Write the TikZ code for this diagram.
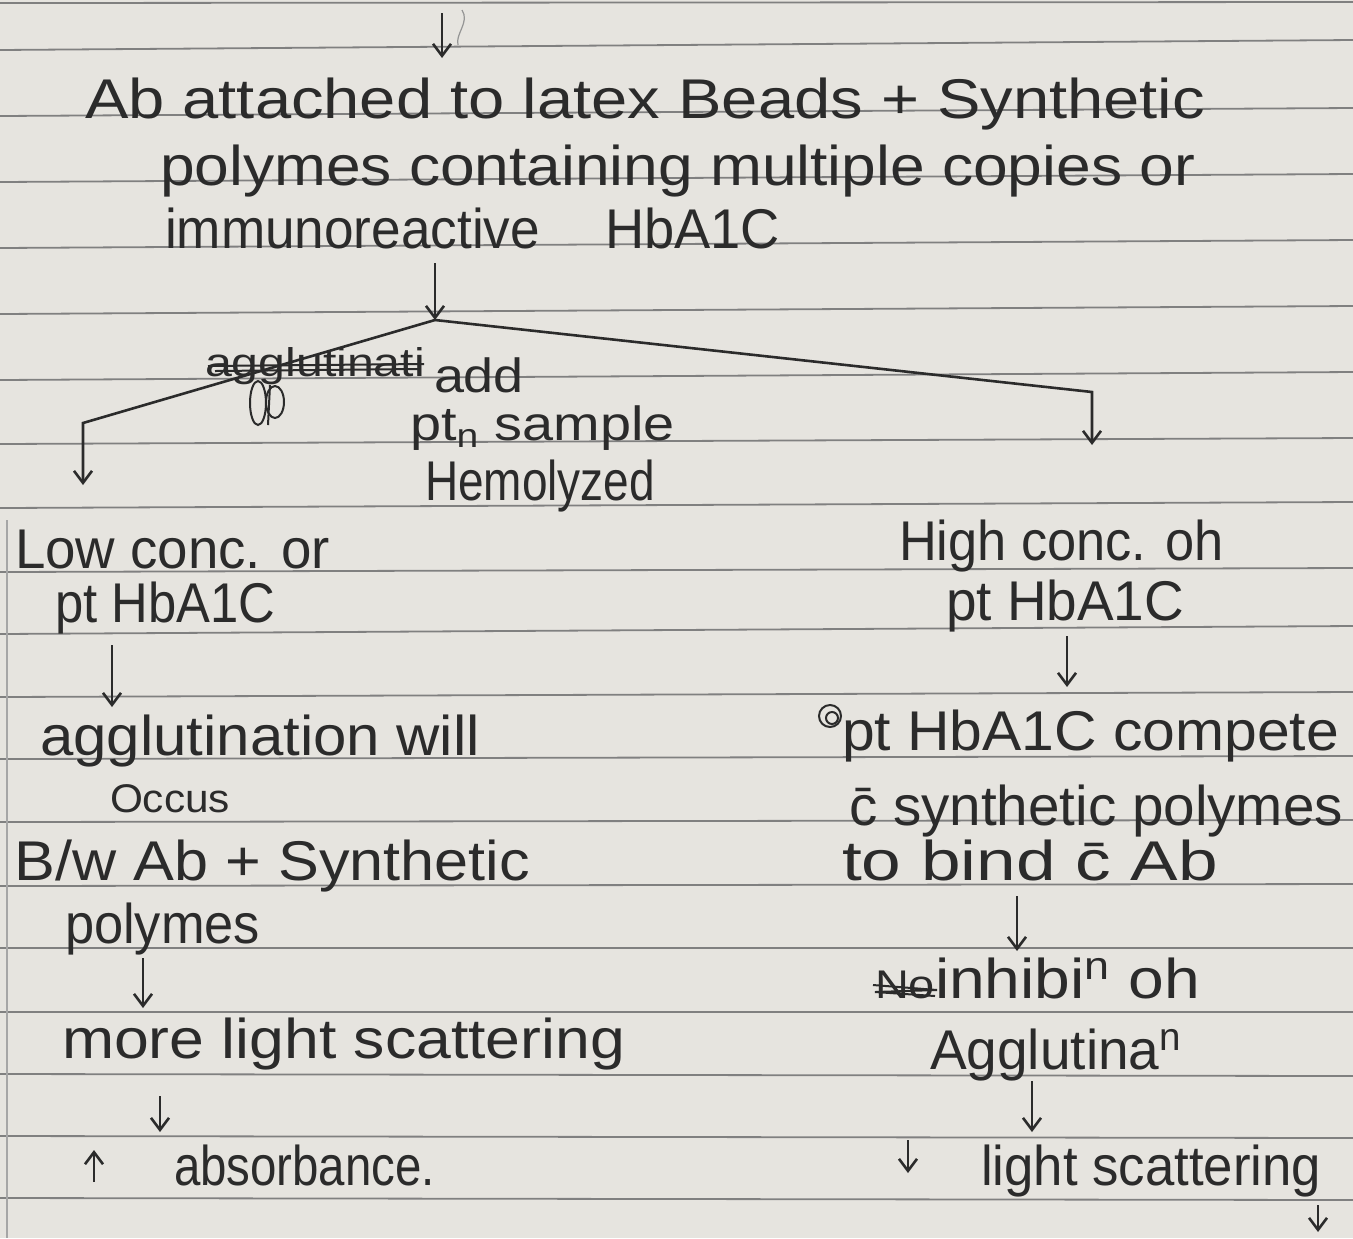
\documentclass[tikz,border=0pt]{standalone}
\usepackage{fontspec}
\setmainfont{Liberation Sans}
\usetikzlibrary{arrows.meta}
\definecolor{paper}{HTML}{E6E4DF}
\definecolor{rulec}{HTML}{808080}
\definecolor{ink}{HTML}{2B2B2B}
\newcommand\hw[2]{\resizebox{#1pt}{\height}{#2}}
\begin{document}
\begin{tikzpicture}[x=0.5pt,y=-0.5pt,
  txt/.style={inner sep=0pt, outer sep=0pt, anchor=base west, text=ink, font=\fontsize{28}{30}\selectfont},
  smalltxt/.style={txt, font=\fontsize{20}{22}\selectfont},
  midtxt/.style={txt, font=\fontsize{24}{26}\selectfont},
  conn/.style={draw=ink, line width=1.3pt, -{Straight Barb[length=6pt,width=9pt]}},
  ruling/.style={draw=rulec, line width=0.9pt},
  scrib/.style={draw=ink, line width=1pt}]
\fill[paper] (0,0) rectangle (1353,1238);
\useasboundingbox (0,0) rectangle (1353,1238);
% ruled lines
\draw[ruling] (0,3) -- (1353,2);
\foreach \a/\b in {50/40,116/108,182/174,248/240,314/306,380/372,444/438,508/502,572/568,634/626,697/692,759/756,822/820,886/884,948/948,1012/1012,1074/1076,1136/1138,1198/1200}
  \draw[ruling] (0,\a) -- (1353,\b);
\draw[draw=rulec!70, line width=0.8pt] (7,520) -- (7,1238);

% top text
\node[txt] (t1) at (85,118) {\hw{560}{Ab attached to latex Beads + Synthetic}};
\node[txt] (t2) at (160,185) {\hw{517.5}{polymes containing multiple copies or}};
\node[txt] (t3a) at (165,248) {\hw{187.5}{immunoreactive}};
\node[txt] (t3b) at (605,248) {\hw{87.5}{HbA1C}};

% middle annotations
\node[smalltxt] (strk) at (205,376) {\hw{110}{agglutinati}};
\draw[scrib] (208,366) -- (424,364);
\draw[scrib] (215,371) -- (420,369);
\draw[scrib] (258,403) ellipse (8 and 22);
\draw[scrib] (275,402) ellipse (9 and 16);
\draw[scrib] (270,385) -- (268,425);
\node[midtxt] (add) at (434,392) {\hw{45}{add}};
\node[midtxt] (ps) at (410,440) {\hw{132.5}{pt\textsubscript{n} sample}};
\node[txt] (hemo) at (425,500) {\hw{115}{Hemolyzed}};

% left branch
\node[txt] (low) at (15,568) {\hw{157.5}{Low conc. or}};
\node[txt] (lpt) at (55,622) {\hw{110}{pt HbA1C}};
\node[txt] (agg) at (40,755) {\hw{220}{agglutination will}};
\node[smalltxt] (occ) at (110,812) {\hw{60}{Occus}};
\node[txt] (bw) at (15,880) {\hw{257.5}{B/w Ab + Synthetic}};
\node[txt] (lpol) at (65,943) {\hw{97.5}{polymes}};
\node[txt] (more) at (62,1058) {\hw{281.5}{more light scattering}};
\node[txt] (abs) at (174,1185) {\hw{130.5}{absorbance.}};

% right branch
\node[txt] (high) at (899,560) {\hw{162.5}{High conc. oh}};
\node[txt] (rpt) at (946,620) {\hw{119}{pt HbA1C}};
\draw[scrib] (830,716) circle (11);
\draw[scrib] (832,718) circle (6);
\node[txt] (comp) at (842,750) {\hw{248.5}{pt HbA1C compete}};
\node[txt] (syn) at (849,825) {\hw{247}{\={c} synthetic polymes}};
\node[txt] (bind) at (842,880) {\hw{188}{to bind \={c} Ab}};
\node[smalltxt] (no) at (875,998) {\hw{30}{No}};
\draw[scrib] (873,985) -- (937,990) -- (875,992) -- (935,996);
\node[txt] (inh) at (935,998) {\hw{132.5}{inhibi\textsuperscript{n} oh}};
\node[txt] (aggn) at (930,1069) {\hw{126}{Agglutina\textsuperscript{n}}};
\node[txt] (ls) at (981,1185) {\hw{170}{light scattering}};

% connector coordinates
\coordinate (a0s) at (442,13);  \coordinate (a0e) at (442,58);
\coordinate (a1s) at (435,263); \coordinate (apex) at (435,320);
\coordinate (lk) at (83,423);   \coordinate (le) at (83,485);
\coordinate (rk) at (1092,392); \coordinate (re) at (1092,445);
\coordinate (a2s) at (112,645); \coordinate (a2e) at (112,707);
\coordinate (a3s) at (143,958); \coordinate (a3e) at (143,1008);
\coordinate (a4s) at (160,1096);\coordinate (a4e) at (160,1132);
\coordinate (ups) at (94,1182); \coordinate (upe) at (94,1150);
\coordinate (r1s) at (1067,636);\coordinate (r1e) at (1067,687);
\coordinate (r2s) at (1017,896);\coordinate (r2e) at (1017,951);
\coordinate (r3s) at (1032,1081);\coordinate (r3e) at (1032,1132);
\coordinate (dns) at (908,1140);\coordinate (dne) at (908,1173);
\coordinate (r4s) at (1318,1205);\coordinate (r4e) at (1318,1232);

% connectors
\draw[conn] (a0s) -- (a0e);
\draw[draw=ink!50, line width=0.6pt] (462,10) .. controls (470,22) and (455,34) .. (458,45);
\draw[conn] (a1s) -- (apex);
\draw[conn] (apex) -- (lk) -- (le);
\draw[conn] (apex) -- (rk) -- (re);
\draw[conn] (a2s) -- (a2e);
\draw[conn] (a3s) -- (a3e);
\draw[conn] (a4s) -- (a4e);
\draw[conn] (ups) -- (upe);
\draw[conn] (r1s) -- (r1e);
\draw[conn] (r2s) -- (r2e);
\draw[conn] (r3s) -- (r3e);
\draw[conn] (dns) -- (dne);
\draw[conn] (r4s) -- (r4e);
\end{tikzpicture}
\end{document}
